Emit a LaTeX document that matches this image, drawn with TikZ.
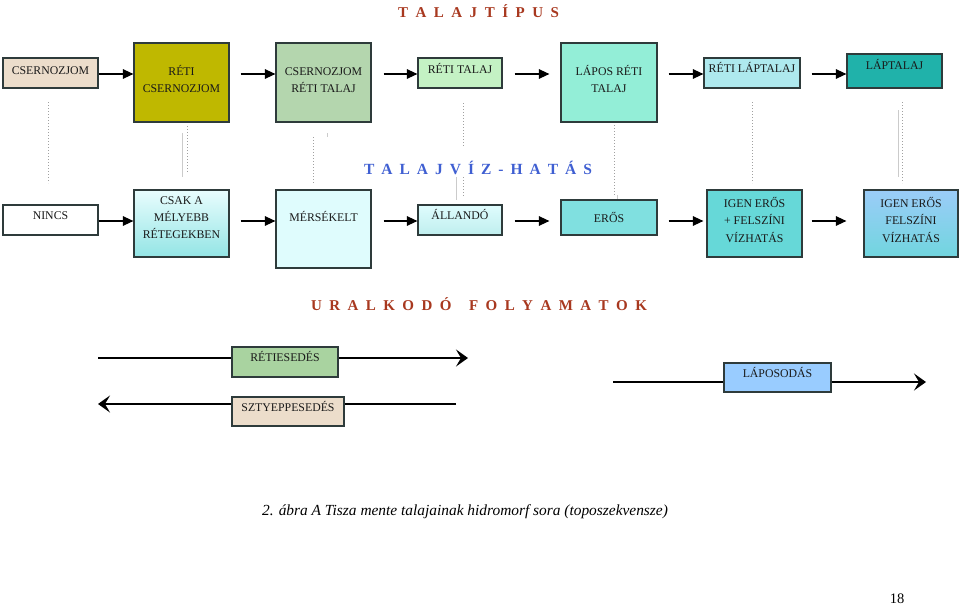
\documentclass[tikz,border=0pt]{standalone}
\usepackage{fontspec}
\setmainfont{Liberation Serif}
\usetikzlibrary{arrows.meta,calc}
\definecolor{boxline}{HTML}{2E3B3B}
\definecolor{titlered}{HTML}{A8381F}
\definecolor{titleblue}{HTML}{3F5FD2}
\definecolor{guidegray}{HTML}{A0A0A0}
\definecolor{cBeige}{HTML}{ECDDCB}
\definecolor{cOlive}{HTML}{BFB800}
\definecolor{cSage}{HTML}{B4D6AE}
\definecolor{cMint}{HTML}{C4F2C4}
\definecolor{cAqua}{HTML}{93EED7}
\definecolor{cPale}{HTML}{AEE9EE}
\definecolor{cTeal}{HTML}{20B2AA}
\definecolor{cIce}{HTML}{DFFCFD}
\definecolor{cCyanA}{HTML}{BFEEEE}
\definecolor{cCyanB}{HTML}{80E0E0}
\definecolor{cCyanC}{HTML}{66D8D8}
\definecolor{cSky}{HTML}{9BCCF8}
\definecolor{cGreen}{HTML}{A9D3A0}
\definecolor{cBlue}{HTML}{99CCFF}
\begin{document}
\begin{tikzpicture}[x=1pt,y=-1pt,
  box/.style={draw=boxline, line width=1.2pt, rectangle, inner sep=0pt},
  lbl/.style={anchor=base, inner sep=0pt, font=\fontsize{11.8}{14}\selectfont, text=black!90},
  arr/.style={line width=1.4pt, -{Triangle[length=10.5pt,width=9.5pt]}},
  parr/.style={line width=1.8pt},
  ptip/.style={-{Stealth[length=12pt,width=17pt,inset=5pt]}},
  guide/.style={draw=guidegray, line width=1pt, dotted},
  guidesolid/.style={draw=guidegray!55, line width=1pt},
  ttl/.style={anchor=base, inner sep=0pt, font=\bfseries\fontsize{15}{18}\selectfont}]
\useasboundingbox (0,0) rectangle (960,613);
\fill[white] (0,0) rectangle (960,613);

% ---------- titles ----------
\node[ttl, text=titlered] (t1) at (478.5,17) {\makebox[161pt][s]{T A L A J T Í P U S}};
\node[ttl, text=titleblue, font=\bfseries\fontsize{15.5}{18}\selectfont] (t2) at (478,174.5) {\makebox[228pt][s]{T A L A J V Í Z - H A T Á S}};
\node[ttl, text=titlered] (t3) at (479,310) {\makebox[336pt][s]{U R A L K O D Ó \hskip10pt F O L Y A M A T O K}};

% ---------- faint guide lines ----------
\draw[guide] (48,102) -- (48,183);
\draw[guidesolid] (182,133) -- (182,177);
\draw[guide] (187,126) -- (187,172);
\draw[guide] (313,137) -- (313,183);
\draw[guidesolid] (327,133) -- (327,137);
\draw[guide] (463,103) -- (463,148);
\draw[guidesolid] (456,177) -- (456,200);
\draw[guide] (463,177) -- (463,196);
\draw[guide] (614,125) -- (614,195);
\draw[guidesolid] (617,195) -- (617,200);
\draw[guide] (752,102) -- (752,183);
\draw[guidesolid] (898,110) -- (898,177);
\draw[guide] (902,102) -- (902,183);

% ---------- row 1 : soil types ----------
\node[box, fill=cBeige, minimum width=95pt, minimum height=30pt] (b1) at (50.5,73) {};
\node[box, fill=cOlive, minimum width=95pt, minimum height=79pt] (b2) at (181.5,82.5) {};
\node[box, fill=cSage, minimum width=95pt, minimum height=79pt] (b3) at (323.5,82.5) {};
\node[box, fill=cMint, minimum width=84pt, minimum height=30pt] (b4) at (460,73) {};
\node[box, fill=cAqua, minimum width=96pt, minimum height=79pt] (b5) at (609,82.5) {};
\node[box, fill=cPale, minimum width=96pt, minimum height=30pt] (b6) at (752,73) {};
\node[box, fill=cTeal, minimum width=95pt, minimum height=34pt] (b7) at (894.5,71) {};

\node[lbl] (b1t) at (50.5,74) {CSERNOZJOM};
\node[lbl] (b2t1) at (181.5,75) {RÉTI};
\node[lbl] (b2t2) at (181.5,92) {CSERNOZJOM};
\node[lbl] (b3t1) at (323.5,75) {CSERNOZJOM};
\node[lbl] (b3t2) at (323.5,92) {RÉTI TALAJ};
\node[lbl] (b4t) at (460,73) {RÉTI TALAJ};
\node[lbl] (b5t1) at (609,75) {LÁPOS RÉTI};
\node[lbl] (b5t2) at (609,92) {TALAJ};
\node[lbl] (b6t) at (752,72.5) {RÉTI LÁPTALAJ};
\node[lbl] (b7t) at (894.5,69) {LÁPTALAJ};

\draw[arr] (b1.east |- 0,74) -- (b2.west |- 0,74);
\draw[arr] ($(b2.east |- 0,74)+(11,0)$) -- (b3.west |- 0,74);
\draw[arr] ($(b3.east |- 0,74)+(12,0)$) -- (b4.west |- 0,74);
\draw[arr] ($(b4.east |- 0,74)+(12,0)$) -- ($(b5.west |- 0,74)+(-11,0)$);
\draw[arr] ($(b5.east |- 0,74)+(11,0)$) -- (b6.west |- 0,74);
\draw[arr] ($(b6.east |- 0,74)+(11,0)$) -- (b7.west |- 0,74);

% ---------- row 2 : groundwater effect ----------
\node[box, fill=white, minimum width=95pt, minimum height=30pt] (c1) at (50.5,220) {};
\node[box, top color=cIce!70!white, bottom color=cCyanB!85!white, minimum width=95pt, minimum height=67pt] (c2) at (181.5,223.5) {};
\node[box, fill=cIce, minimum width=95pt, minimum height=78pt] (c3) at (323.5,229) {};
\node[box, top color=cIce, bottom color=cCyanA, minimum width=84pt, minimum height=30pt] (c4) at (460,220) {};
\node[box, fill=cCyanB, minimum width=96pt, minimum height=35pt] (c5) at (609,217.5) {};
\node[box, fill=cCyanC, minimum width=95pt, minimum height=67pt] (c6) at (754.5,223.5) {};
\node[box, top color=cSky, bottom color=cCyanC!80!cSky, minimum width=94pt, minimum height=67pt] (c7) at (911,223.5) {};

\node[lbl] (c1t) at (50.5,219) {NINCS};
\node[lbl] (c2t1) at (181.5,204) {CSAK A};
\node[lbl] (c2t2) at (181.5,221) {MÉLYEBB};
\node[lbl] (c2t3) at (181.5,238) {RÉTEGEKBEN};
\node[lbl] (c3t) at (323.5,221) {MÉRSÉKELT};
\node[lbl] (c4t) at (460,219) {ÁLLANDÓ};
\node[lbl] (c5t) at (609,222) {ERŐS};
\node[lbl] (c6t1) at (754.5,207) {IGEN ERŐS};
\node[lbl] (c6t2) at (754.5,224) {+ FELSZÍNI};
\node[lbl] (c6t3) at (754.5,242) {VÍZHATÁS};
\node[lbl] (c7t1) at (911,207) {IGEN ERŐS};
\node[lbl] (c7t2) at (911,224) {FELSZÍNI};
\node[lbl] (c7t3) at (911,242) {VÍZHATÁS};

\draw[arr] (c1.east |- 0,221) -- (c2.west |- 0,221);
\draw[arr] ($(c2.east |- 0,221)+(11,0)$) -- (c3.west |- 0,221);
\draw[arr] ($(c3.east |- 0,221)+(12,0)$) -- (c4.west |- 0,221);
\draw[arr] ($(c4.east |- 0,221)+(12,0)$) -- ($(c5.west |- 0,221)+(-11,0)$);
\draw[arr] ($(c5.east |- 0,221)+(11,0)$) -- ($(c6.west |- 0,221)+(-3,0)$);
\draw[arr] ($(c6.east |- 0,221)+(9,0)$) -- ($(c7.west |- 0,221)+(-17,0)$);

% ---------- dominant processes ----------
\node[box, fill=cGreen, minimum width=106pt, minimum height=30pt] (p1) at (285,362) {};
\node[box, fill=cBeige, minimum width=112pt, minimum height=29pt] (p2) at (288,411.5) {};
\node[box, fill=cBlue, minimum width=107pt, minimum height=29pt] (p3) at (777.5,377.5) {};
\node[lbl] (p1t) at (285,361) {RÉTIESEDÉS};
\node[lbl] (p2t) at (288,411) {SZTYEPPESEDÉS};
\node[lbl] (p3t) at (777.5,377) {LÁPOSODÁS};

\coordinate (r0) at (98,358);
\coordinate (r1) at (468,358);
\coordinate (s0) at (456,404);
\coordinate (s1) at (98,404);
\coordinate (l0) at (613,382);
\coordinate (l1) at (926,382);
\draw[parr] (r0) -- (p1.west |- r0);
\draw[parr, ptip] (p1.east |- r0) -- (r1);
\draw[parr] (s0) -- (p2.east |- s0);
\draw[parr, ptip] (p2.west |- s0) -- (s1);
\draw[parr] (l0) -- (p3.west |- l0);
\draw[parr, ptip] (p3.east |- l0) -- (l1);

% ---------- caption and page number ----------
\node[anchor=base, inner sep=0pt, font=\itshape\fontsize{15.4}{19}\selectfont] (cap) at (465,515) {2. ábra A Tisza mente talajainak hidromorf sora (toposzekvensze)};
\node[anchor=base, inner sep=0pt, font=\fontsize{14.5}{17}\selectfont] (pg) at (897,603) {18};
\end{tikzpicture}
\end{document}
